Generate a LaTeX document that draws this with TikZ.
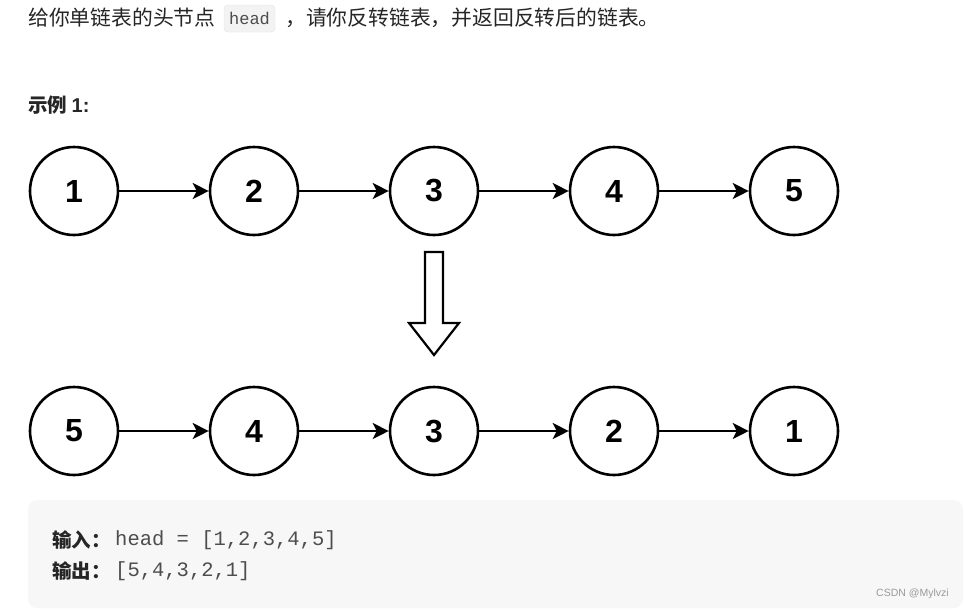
\documentclass[tikz,border=0pt]{standalone}
\usepackage{fontspec}
\setmainfont{Liberation Sans}
\newfontfamily\cjk{Noto Sans CJK SC}
\newfontfamily\monof{Liberation Mono}
\usetikzlibrary{arrows.meta}
\definecolor{boxgray}{HTML}{F7F7F8}
\definecolor{codegray}{HTML}{F3F3F3}
\definecolor{codeborder}{HTML}{E3E3E3}
\definecolor{monotext}{HTML}{4D4D4D}
\definecolor{marktext}{HTML}{9A9A9A}
\begin{document}
\begin{tikzpicture}[x=1pt,y=-1pt,
  lnode/.style={circle,draw=black,line width=2.6pt,minimum size=88pt,inner sep=0pt,
    font=\fontsize{32}{32}\selectfont\bfseries},
  link/.style={line width=2.2pt,-{Stealth[length=16pt,width=16pt,inset=4pt]}},
  cjktext/.style={inner sep=0pt,anchor=west,font=\cjk\fontsize{20.8}{24}\selectfont,text=black!85},
  cjkbold/.style={inner sep=0pt,anchor=west,font=\cjk\bfseries\fontsize{19.5}{22}\selectfont,text=black!85},
  monotxt/.style={inner sep=0pt,anchor=west,font=\monof\fontsize{20.5}{24}\selectfont,text=monotext},
]
\useasboundingbox (0,0) rectangle (965,611);
\fill[white] (0,0) rectangle (965,611);

% top text
\node[cjktext] (t1) at (28,18) {给你单链表的头节点};
\node[draw=codeborder,fill=codegray,rounded corners=4pt,minimum width=51pt,minimum height=27pt,
  inner sep=0pt,font=\monof\fontsize{17}{20}\selectfont,text=monotext] (code) at (249.5,18.5) {head};
\node[cjktext] (t2) at (285,18) {，请你反转链表，并返回反转后的链表。};

% example title
\node[cjkbold] (ex) at (28,105) {示例 \fontspec{Liberation Sans}\bfseries\fontsize{20}{22}\selectfont 1:};

% first row
\foreach \n/\x in {1/74,2/254,3/434,4/614,5/794}{
  \node[lnode] (a\n) at (\x,191) {\n};
}
\foreach \i/\j in {1/2,2/3,3/4,4/5}{
  \draw[link] (a\i) -- (a\j);
}

% block arrow
\draw[line width=2.2pt,line join=miter,fill=white] (425,252) -- (443,252) -- (443,323) -- (459,323)
  -- (434,355) -- (409,323) -- (425,323) -- cycle;

% second row
\foreach \n/\v/\x in {1/5/74,2/4/254,3/3/434,4/2/614,5/1/794}{
  \node[lnode] (b\n) at (\x,431) {\v};
}
\foreach \i/\j in {1/2,2/3,3/4,4/5}{
  \draw[link] (b\i) -- (b\j);
}

% example box
\fill[boxgray,rounded corners=9pt] (28,500) rectangle (963,608);
\node[cjkbold] (in) at (52,540) {输入：};
\node[monotxt] (inv) at (115,540) {head = [1,2,3,4,5]};
\node[cjkbold] (out) at (52,571) {输出：};
\node[monotxt] (outv) at (115,571) {[5,4,3,2,1]};

% watermark
\node[inner sep=0pt,anchor=west,font=\fontsize{10.5}{12}\selectfont,text=marktext] (wm) at (876,594) {CSDN @Mylvzi};
\end{tikzpicture}
\end{document}
